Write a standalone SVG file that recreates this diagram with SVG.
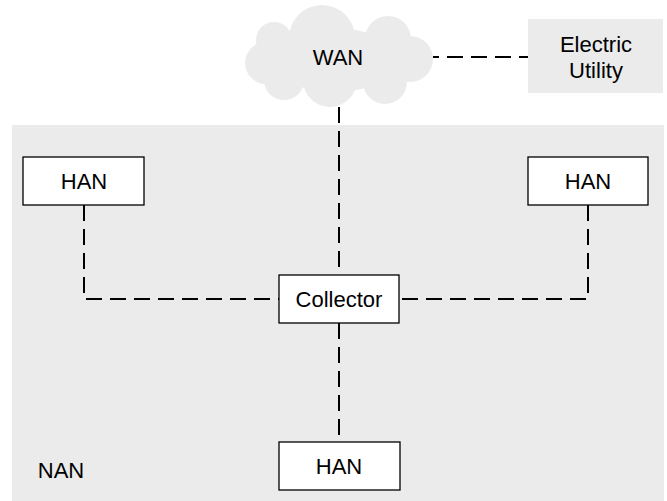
<svg xmlns="http://www.w3.org/2000/svg" width="667" height="501" viewBox="0 0 667 501">
<style>
.lbl{font-family:"Liberation Sans",Arial,sans-serif;font-size:22px;fill:#000;text-anchor:middle;dominant-baseline:central}
.box{fill:#fff;stroke:#000;stroke-width:1.3}
.con{fill:none;stroke:#000;stroke-width:2;stroke-dasharray:16,8}
.gray{fill:#ebebeb}
</style>
<rect width="667" height="501" fill="#fff"/>
<g id="nan">
<rect class="gray" x="12" y="125" width="652" height="376"/>
<text class="lbl" x="61" y="470">NAN</text>
</g>
<g id="connectors">
<path class="con" d="M433,57 H528" stroke-dashoffset="10"/>
<path class="con" d="M339,107 V275"/>
<path class="con" d="M84,205 V299 H279"/>
<path class="con" d="M588,205 V299 H399"/>
<path class="con" d="M339,323 V442"/>
</g>
<g id="wan">
<g class="gray">
<ellipse cx="335" cy="60" rx="62" ry="32"/>
<circle cx="266" cy="63" r="21"/>
<circle cx="274" cy="40" r="18"/>
<circle cx="322" cy="38" r="33"/>
<circle cx="388" cy="39" r="23"/>
<circle cx="410" cy="59" r="23"/>
<circle cx="385" cy="82" r="22"/>
<circle cx="330" cy="80" r="27"/>
<circle cx="284" cy="80" r="20"/>
</g>
<text class="lbl" x="338" y="57">WAN</text>
</g>
<g id="utility">
<rect class="gray" x="528" y="19" width="135" height="74"/>
<text class="lbl" x="596" y="44">Electric</text>
<text class="lbl" x="596" y="70">Utility</text>
</g>
<g id="han-left">
<rect class="box" x="23" y="157" width="121" height="48"/>
<text class="lbl" x="84" y="181">HAN</text>
</g>
<g id="han-right">
<rect class="box" x="528" y="157" width="120" height="48"/>
<text class="lbl" x="588" y="181">HAN</text>
</g>
<g id="collector">
<rect class="box" x="279" y="275" width="120" height="48"/>
<text class="lbl" x="339" y="299">Collector</text>
</g>
<g id="han-bottom">
<rect class="box" x="279" y="442" width="121" height="48"/>
<text class="lbl" x="339" y="466">HAN</text>
</g>
</svg>
